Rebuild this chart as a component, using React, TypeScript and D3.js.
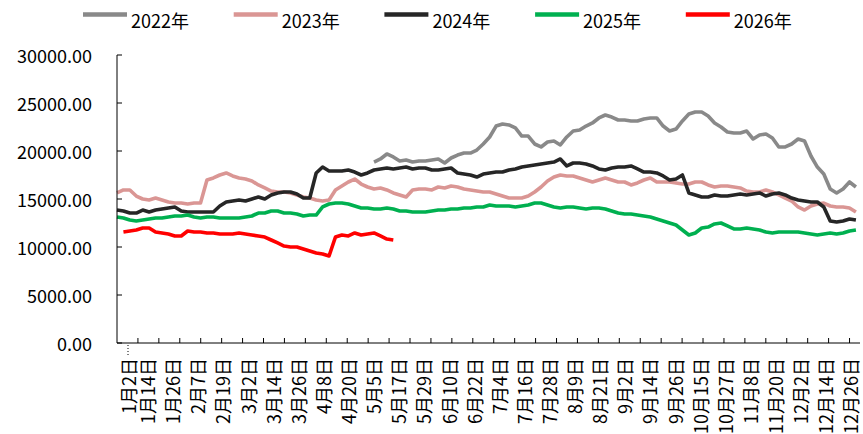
import * as d3 from "d3";

const width = 863;
const height = 434;

// category axis: trading days of the year, one sample read every ~3 days
const TRADING_DAYS = 355;
const SAMPLE_STEP = 3.07;
const LABEL_EVERY = 12;
const TICK_EVERY = 10;

const dateLabels = [
  "1月2日", "1月14日", "1月26日", "2月7日", "2月19日", "3月2日", "3月14日", "3月26日",
  "4月8日", "4月20日", "5月5日", "5月17日", "5月29日", "6月10日", "6月22日", "7月4日",
  "7月16日", "7月28日", "8月9日", "8月21日", "9月2日", "9月14日", "9月26日", "10月15日",
  "10月27日", "11月8日", "11月20日", "12月2日", "12月14日", "12月26日",
];

const yTicks = [0, 5000, 10000, 15000, 20000, 25000, 30000];

const seriesNames = ["2022年", "2023年", "2024年", "2025年", "2026年"];
const seriesColors = ["#898989", "#da9694", "#262626", "#00b050", "#ff0000"];

const start2022 = 40;
const v2022 = [
  18850, 19170, 19690, 19380, 18960, 19060, 18850, 18960, 18960, 19060,
  19170, 18750, 19270, 19580, 19790, 19790, 20100, 20730, 21460, 22600,
  22810, 22710, 22400, 21560, 21560, 20730, 20420, 20940, 21040, 20630,
  21460, 22080, 22190, 22600, 22920, 23440, 23750, 23540, 23230, 23230,
  23130, 23130, 23340, 23440, 23440, 22600, 22080, 22290, 23130, 23850,
  24060, 24060, 23650, 22920, 22500, 21980, 21880, 21880, 22080, 21250,
  21670, 21770, 21350, 20420, 20420, 20730, 21250, 21040, 19480, 18330,
  17600, 16040, 15630, 16040, 16770, 16250,
];

const start2023 = 0;
const v2023 = [
  15630, 15940, 15940, 15310, 15000, 14900, 15100, 14900, 14690, 14580,
  14580, 14480, 14580, 14580, 16980, 17190, 17500, 17710, 17400, 17190,
  17080, 16880, 16460, 16150, 15830, 15730, 15730, 15630, 15420, 15210,
  15100, 14900, 14790, 14900, 15940, 16350, 16770, 17080, 16560, 16250,
  16040, 16150, 15940, 15630, 15420, 15210, 15940, 16040, 16040, 15940,
  16250, 16150, 16350, 16250, 16040, 15940, 15830, 15730, 15730, 15520,
  15310, 15100, 15100, 15100, 15310, 15730, 16250, 16880, 17290, 17500,
  17400, 17400, 17190, 16980, 16770, 16980, 17190, 16980, 16770, 16770,
  16460, 16670, 16980, 17190, 16770, 16770, 16770, 16670, 16560, 16560,
  16770, 16770, 16460, 16250, 16350, 16350, 16250, 16150, 15830, 15730,
  15730, 15940, 15730, 15420, 15100, 14790, 14170, 13850, 14270, 14480,
  14580, 14270, 14170, 14170, 14060, 13650,
];

const start2024 = 0;
const v2024 = [
  13850, 13750, 13540, 13540, 13850, 13650, 13850, 13960, 14060, 14170,
  13750, 13650, 13650, 13650, 13650, 13650, 14270, 14690, 14790, 14900,
  14790, 15000, 15210, 15000, 15420, 15630, 15730, 15730, 15520, 15100,
  15100, 17710, 18330, 17920, 17920, 17920, 18020, 17810, 17500, 17710,
  18020, 18130, 18230, 18130, 18230, 18330, 18130, 18230, 18230, 18020,
  18020, 18130, 18230, 17710, 17600, 17500, 17290, 17600, 17710, 17810,
  17810, 18020, 18130, 18330, 18440, 18540, 18650, 18750, 18850, 19170,
  18440, 18750, 18750, 18650, 18440, 18130, 18020, 18230, 18330, 18330,
  18440, 18130, 17810, 17810, 17710, 17400, 16980, 17080, 17500, 15630,
  15420, 15210, 15210, 15420, 15310, 15310, 15420, 15520, 15420, 15520,
  15630, 15310, 15520, 15630, 15420, 15100, 14900, 14790, 14690, 14690,
  14170, 12710, 12600, 12710, 12920, 12810,
];

const start2025 = 0;
const v2025 = [
  13130, 13020, 12810, 12710, 12810, 12920, 13020, 13020, 13130, 13230,
  13230, 13330, 13130, 13020, 13130, 13130, 13020, 13020, 13020, 13020,
  13130, 13230, 13540, 13540, 13750, 13750, 13540, 13540, 13440, 13230,
  13330, 13330, 14170, 14480, 14580, 14580, 14480, 14270, 14060, 14060,
  13960, 13960, 14060, 13960, 13750, 13750, 13650, 13650, 13650, 13750,
  13850, 13850, 13960, 13960, 14060, 14060, 14170, 14170, 14380, 14270,
  14270, 14270, 14170, 14270, 14380, 14580, 14580, 14380, 14170, 14060,
  14170, 14170, 14060, 13960, 14060, 14060, 13960, 13750, 13540, 13440,
  13440, 13330, 13230, 13130, 12920, 12710, 12500, 12290, 11770, 11250,
  11460, 11980, 12080, 12400, 12500, 12190, 11880, 11880, 11980, 11880,
  11770, 11560, 11460, 11560, 11560, 11560, 11560, 11460, 11350, 11250,
  11350, 11460, 11350, 11460, 11670, 11770,
];

const start2026 = 1;
const v2026 = [
  11560, 11670, 11770, 11980, 11980, 11560, 11460, 11350, 11150, 11150,
  11670, 11560, 11560, 11460, 11460, 11350, 11350, 11350, 11460, 11350,
  11250, 11150, 11040, 10730, 10420, 10100, 10000, 10000, 9790, 9580,
  9380, 9270, 9060, 11040, 11250, 11150, 11460, 11250, 11350, 11460,
  11150, 10830, 10730,
];

const seriesValues = [v2022, v2023, v2024, v2025, v2026];
const seriesStarts = [start2022, start2023, start2024, start2025, start2026];

const FONT = "'Noto Sans CJK SC', 'Noto Sans', sans-serif";

export default function App() {
  const left = 117;
  const right = 860;
  const top = 55;
  const bottom = 343;

  const x = d3.scaleLinear().domain([0, TRADING_DAYS]).range([left, right]);
  const y = d3.scaleLinear().domain([0, 30000]).range([bottom, top]);

  const line = d3
    .line<[number, number]>()
    .x((d) => x(d[0]))
    .y((d) => y(d[1]));

  const tickIdx = d3.range(TICK_EVERY, TRADING_DAYS + 1, TICK_EVERY);

  return (
    <svg
      width={width}
      height={height}
      style={{ position: "absolute", left: 0, top: 0, background: "#fff" }}
      fontFamily={FONT}
    >
      {/* legend */}
      {seriesNames.map((name, i) => {
        const lx = 83 + i * 150.7;
        return (
          <g key={name}>
            <line x1={lx} x2={lx + 44} y1={14.5} y2={14.5} stroke={seriesColors[i]} strokeWidth={4.5} />
            <text x={lx + 48} y={20} fontSize={18} dominantBaseline="central" fill="#000">
              {name}
            </text>
          </g>
        );
      })}

      {/* series */}
      {seriesValues.map((vals, i) => {
        const pts: [number, number][] = vals.map((v, j) => [(seriesStarts[i] + j) * SAMPLE_STEP, v]);
        return (
          <path
            key={seriesNames[i]}
            d={line(pts) ?? ""}
            fill="none"
            stroke={seriesColors[i]}
            strokeWidth={3.6}
            strokeLinejoin="round"
          />
        );
      })}

      {/* y axis */}
      <line x1={left} x2={left} y1={top} y2={bottom} stroke="#000" strokeWidth={1} />
      {yTicks.map((t) => (
        <g key={t}>
          <line x1={left} x2={left + 5} y1={y(t)} y2={y(t)} stroke="#000" />
          <text x={92} y={y(t)} fontSize={18} textAnchor="end" dominantBaseline="central" fill="#000">
            {t.toFixed(2)}
          </text>
        </g>
      ))}

      {/* x axis */}
      <line x1={left} x2={right} y1={bottom} y2={bottom} stroke="#000" strokeWidth={1} />
      {tickIdx.map((t) => (
        <line key={t} x1={x(t)} x2={x(t)} y1={bottom} y2={bottom - 5} stroke="#000" />
      ))}
      {dateLabels.map((lab, i) => {
        const lx = x(i * LABEL_EVERY) + (i === 0 ? 11 : 5);
        return (
          <text
            key={lab}
            transform={`translate(${lx},358) rotate(-90)`}
            fontSize={18}
            textAnchor="end"
            dominantBaseline="central"
            fill="#000"
          >
            {lab}
          </text>
        );
      })}
      <line x1={x(0) + 11} x2={x(0) + 11} y1={bottom + 2} y2={356} stroke="#000" strokeDasharray="1,2" />
    </svg>
  );
}
